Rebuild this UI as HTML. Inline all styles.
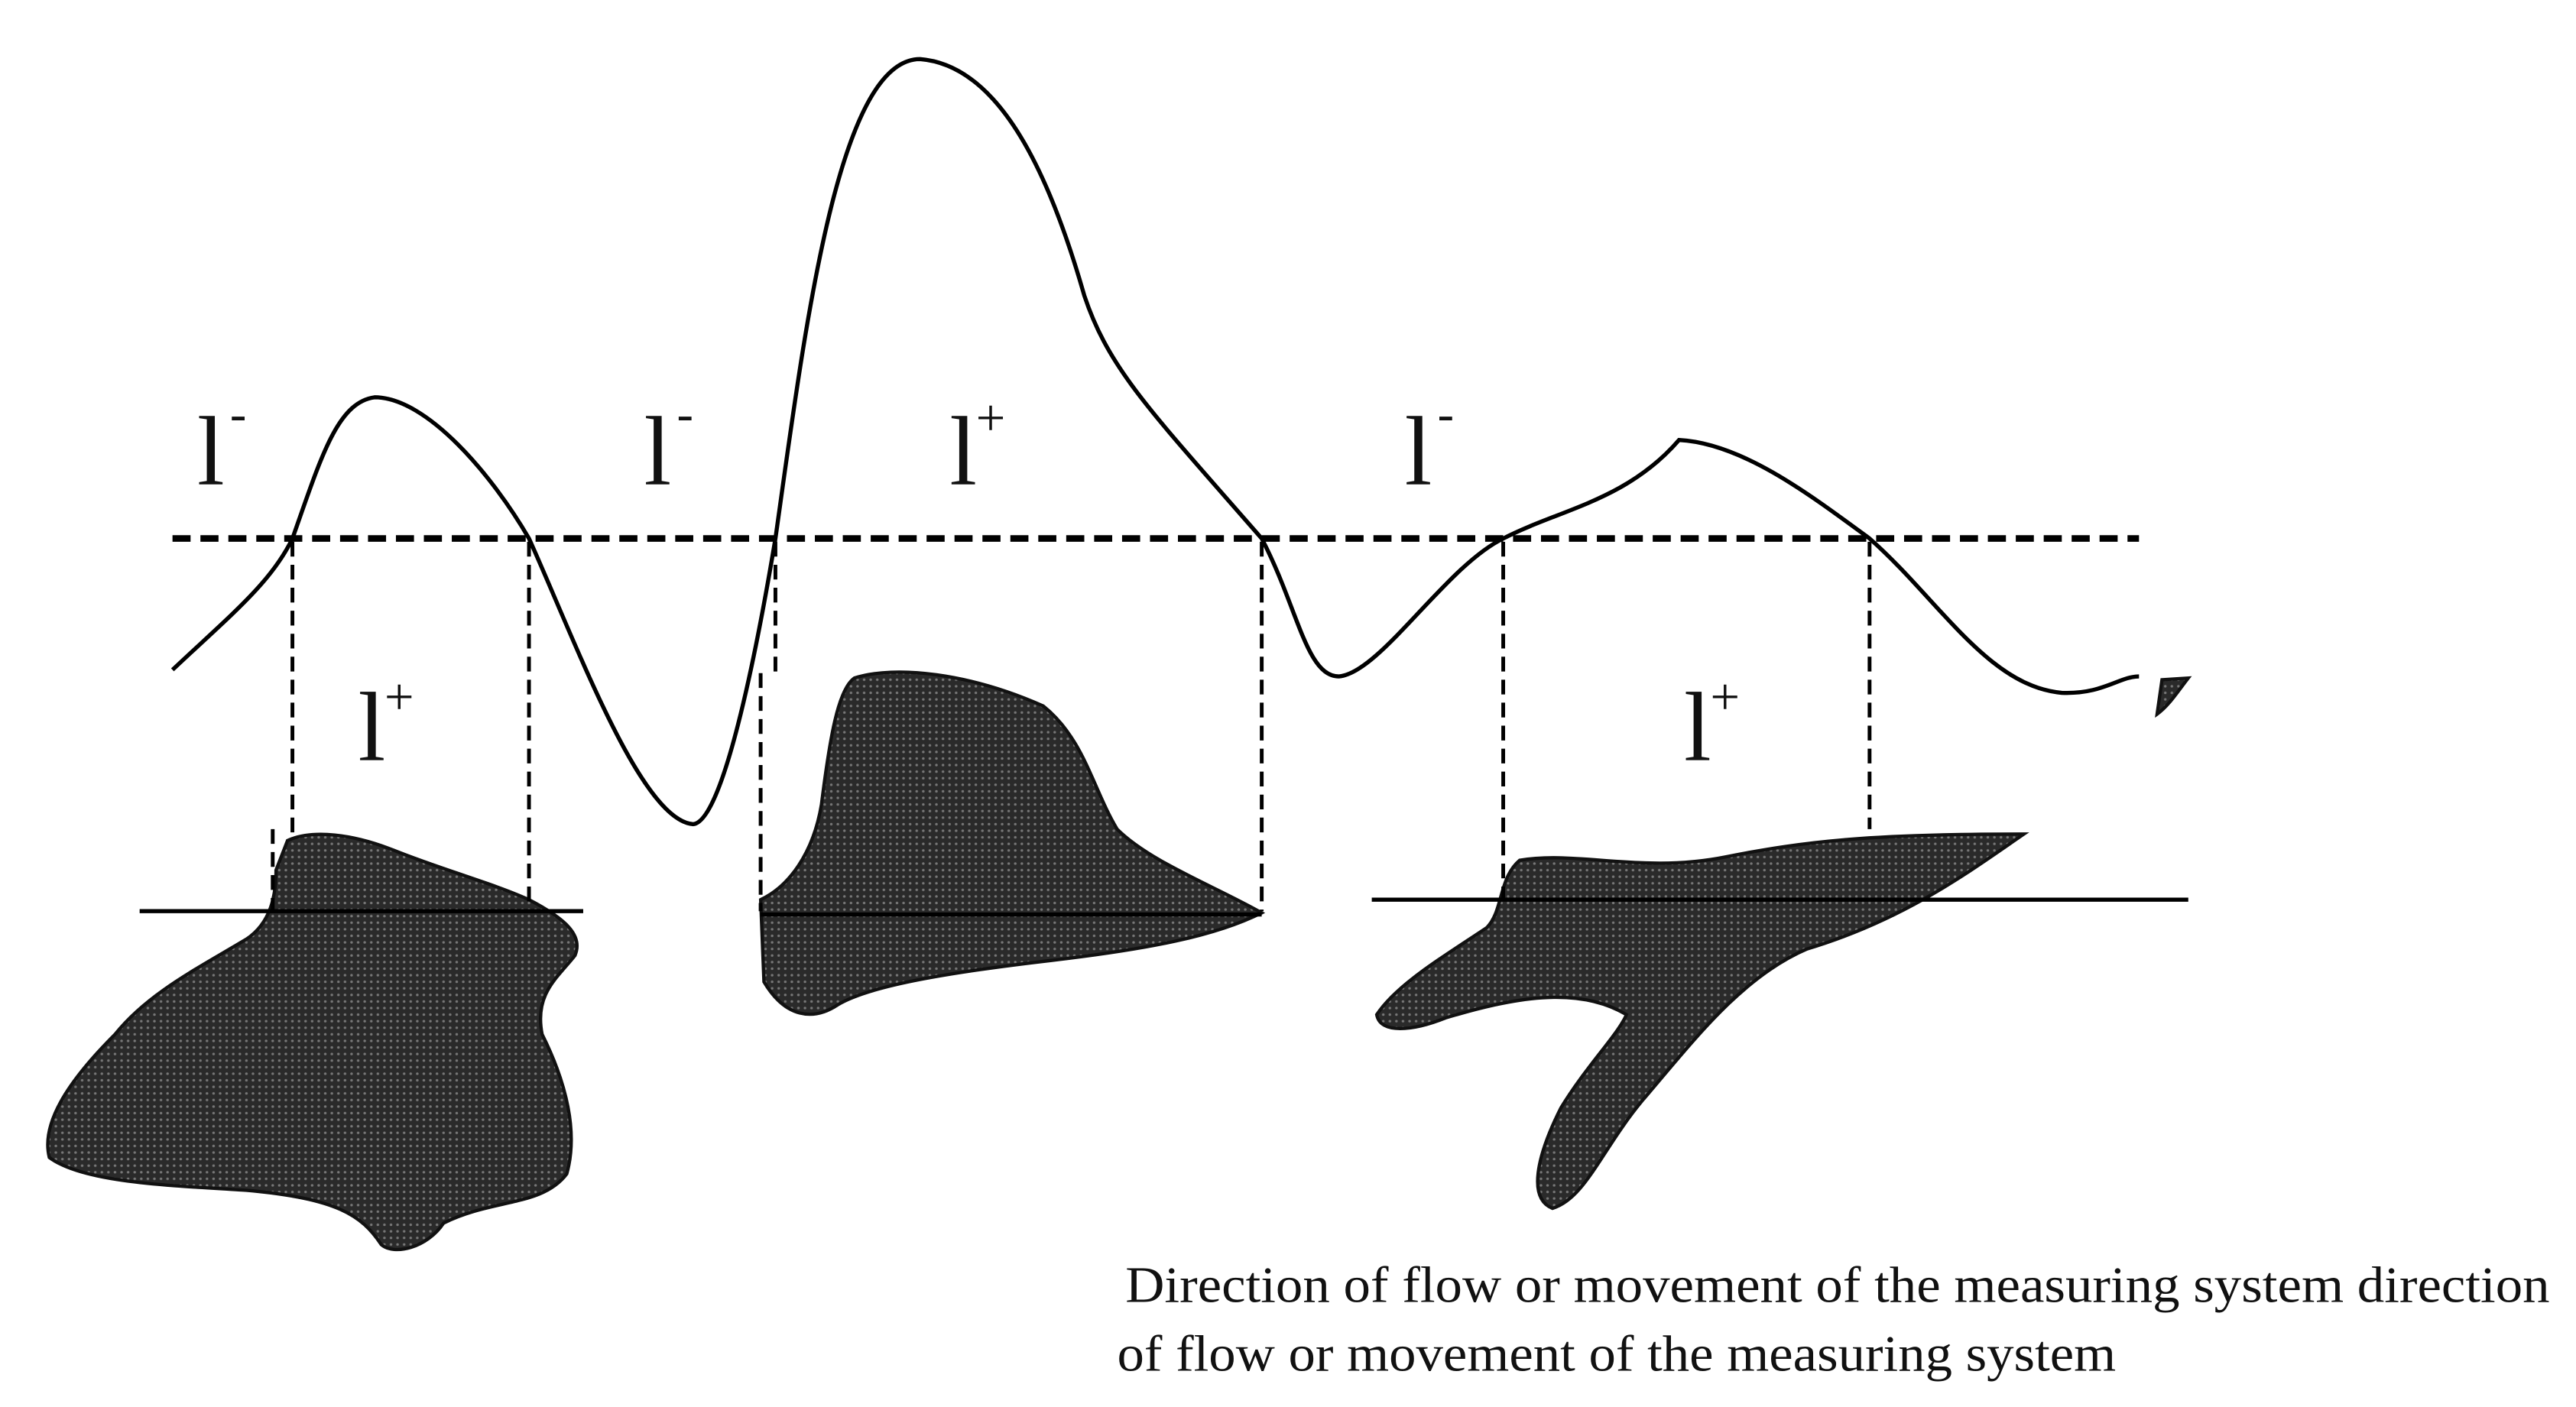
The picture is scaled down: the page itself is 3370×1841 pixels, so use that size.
<!DOCTYPE html>
<html><head><meta charset="utf-8"><style>
html,body{margin:0;padding:0;background:#fff;width:3370px;height:1841px;overflow:hidden}
</style></head><body>
<svg width="3370" height="1841" viewBox="0 0 1568 857" preserveAspectRatio="none" xmlns="http://www.w3.org/2000/svg">
<defs>
<pattern id="dots" width="4" height="4" patternUnits="userSpaceOnUse">
<rect width="4" height="4" fill="#2a2a2a"/><circle cx="2" cy="2" r="0.8" fill="#777"/>
</pattern>
</defs>
<g fill="url(#dots)" stroke="#111" stroke-width="2">
<path d="M175,512 C190,505 215,508 240,518 C270,530 300,538 322,548 C345,560 355,570 350,582 C340,595 325,605 330,630 C345,660 352,690 345,715 C330,735 300,730 270,745 C260,760 240,765 232,758 C220,740 205,730 150,725 C100,722 50,720 30,705 C25,685 40,660 70,630 C90,605 120,590 150,572 C165,562 168,545 168,530 Z"/>
<path d="M520,413 C545,405 590,410 635,430 C660,450 665,480 680,505 C700,525 740,540 768,556 C740,570 700,578 640,585 C580,592 530,600 510,612 C495,622 478,620 465,598 L463,548 C480,540 495,520 500,490 C505,450 510,420 520,413 Z"/>
<path d="M925,524 C960,518 1000,532 1050,522 C1100,512 1140,508 1232,508 C1200,530 1160,560 1100,578 C1060,595 1030,635 1000,670 C975,700 965,730 945,736 C930,730 935,705 950,675 C965,650 985,630 990,618 C960,600 920,608 880,620 C860,628 840,630 838,618 C850,600 875,585 905,565 C915,555 912,535 925,524 Z"/>
<path d="M1313,435 L1316,414 L1332,413 C1325,422 1320,430 1313,435 Z"/>
</g>
<g stroke="#000" stroke-width="2.5" fill="none">
<line x1="85" y1="555" x2="355" y2="555"/>
<line x1="463" y1="557" x2="768" y2="557"/>
<line x1="835" y1="548" x2="1332" y2="548"/>
</g>
<line x1="105" y1="328" x2="1302" y2="328" stroke="#000" stroke-width="4" stroke-dasharray="11,6"/>
<g stroke="#000" stroke-width="2.3" stroke-dasharray="9,5">
<line x1="178" y1="330" x2="178" y2="510"/>
<line x1="166" y1="505" x2="166" y2="555"/>
<line x1="322" y1="330" x2="322" y2="550"/>
<line x1="472" y1="330" x2="472" y2="410"/>
<line x1="463" y1="410" x2="463" y2="555"/>
<line x1="768" y1="330" x2="768" y2="555"/>
<line x1="915" y1="330" x2="915" y2="548"/>
<line x1="1138" y1="330" x2="1138" y2="505"/>
</g>
<path d="M105,408 C140,375 165,355 178,328 C195,280 205,245 228,242 C260,242 300,290 322,328 C350,390 390,500 422,502 C440,500 460,400 472,328 C490,200 510,36 560,36 C610,40 640,110 660,180 C675,225 700,250 768,328 C790,370 795,412 815,412 C840,410 880,345 915,328 C950,310 990,305 1022,268 C1060,270 1100,300 1138,328 C1180,365 1210,418 1255,422 C1280,423 1290,412 1302,412" fill="none" stroke="#000" stroke-width="2.5"/>
<g font-family="'Liberation Serif',serif" fill="#111">
<text x="120" y="295" font-size="60">l</text><text x="140" y="262" font-size="30">-</text>
<text x="392" y="295" font-size="60">l</text><text x="412" y="262" font-size="30">-</text>
<text x="855" y="295" font-size="60">l</text><text x="875" y="262" font-size="30">-</text>
<text x="578" y="295" font-size="60">l</text><text x="594" y="265" font-size="32">+</text>
<text x="218" y="463" font-size="60">l</text><text x="234" y="435" font-size="32">+</text>
<text x="1025" y="463" font-size="60">l</text><text x="1041" y="435" font-size="32">+</text>
<text x="685" y="793" font-size="31" textLength="867" lengthAdjust="spacingAndGlyphs">Direction of flow or movement of the measuring system direction</text>
<text x="680" y="835" font-size="31" textLength="608" lengthAdjust="spacingAndGlyphs">of flow or movement of the measuring system</text>
</g>
</svg>
</body></html>
